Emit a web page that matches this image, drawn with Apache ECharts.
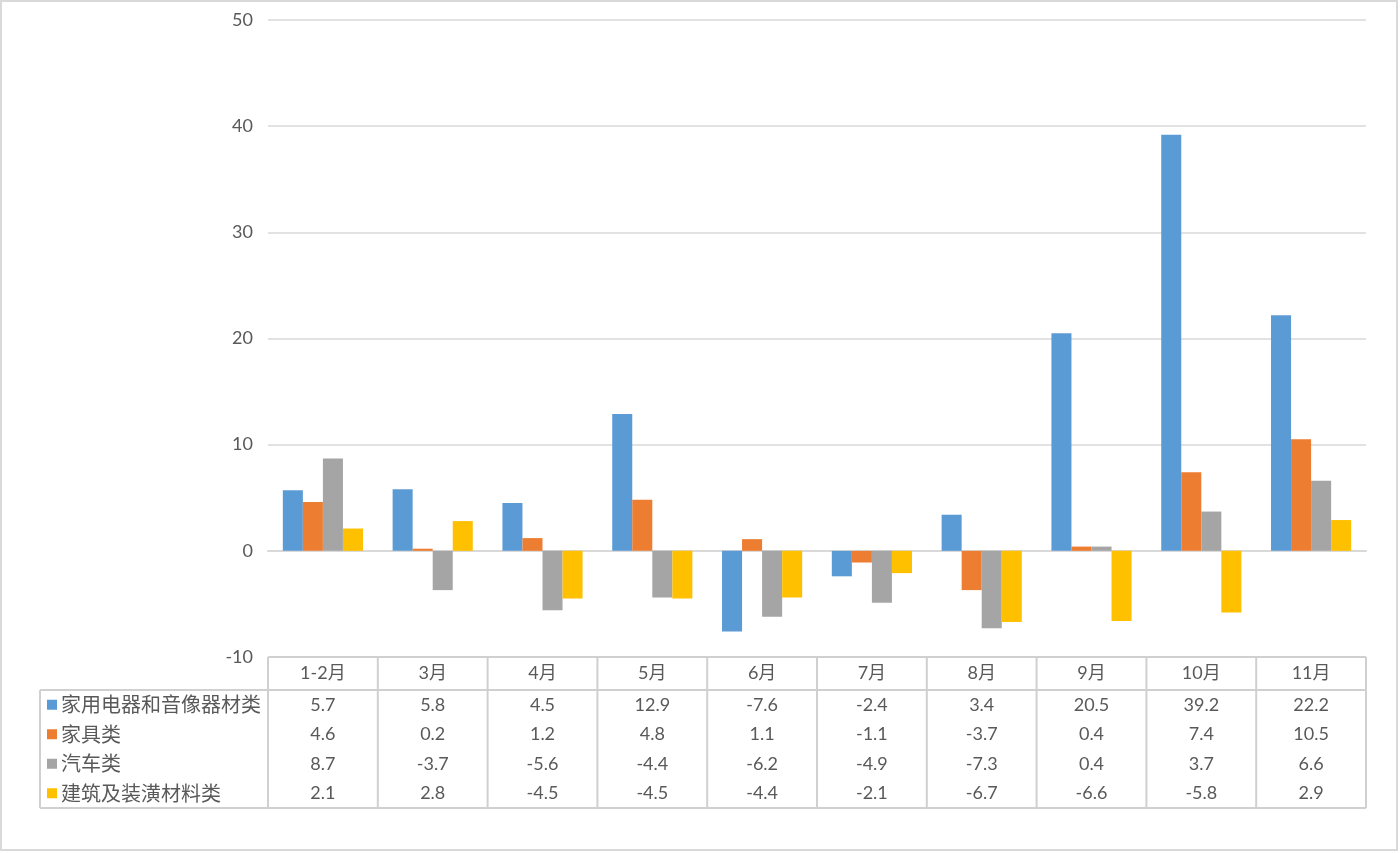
<!DOCTYPE html>
<html>
<head>
<meta charset="utf-8">
<script src="https://cdn.jsdelivr.net/npm/echarts@6/dist/echarts.min.js"></script>
<style>
  html, body { margin: 0; padding: 0; background: #fff; }
  #chart { width: 1400px; height: 853px; }
</style>
</head>
<body>
<div id="chart"></div>
<script>
var months = ['1-2月', '3月', '4月', '5月', '6月', '7月', '8月', '9月', '10月', '11月'];
var seriesNames = ['家用电器和音像器材类', '家具类', '汽车类', '建筑及装潢材料类'];
var appliances = [5.7, 5.8, 4.5, 12.9, -7.6, -2.4, 3.4, 20.5, 39.2, 22.2];
var furniture = [4.6, 0.2, 1.2, 4.8, 1.1, -1.1, -3.7, 0.4, 7.4, 10.5];
var cars = [8.7, -3.7, -5.6, -4.4, -6.2, -4.9, -7.3, 0.4, 3.7, 6.6];
var building = [2.1, 2.8, -4.5, -4.5, -4.4, -2.1, -6.7, -6.6, -5.8, 2.9];
var colors = ['#5b9bd5', '#ed7d31', '#a5a5a5', '#ffc000'];

var allSeries = [appliances, furniture, cars, building];
var numFont = 'Lato, "Noto Sans CJK SC", sans-serif';
var cjkFont = '"Noto Sans CJK SC", sans-serif';
var textColor = '#595959';
var tableLine = '#d0d0d0';

var chartDom = document.getElementById('chart');
var myChart = echarts.init(chartDom);

var option = {
    animation: false,
    grid: { left: 268, right: 34, top: 20, bottom: 196 },
    xAxis: {
        type: 'category',
        data: months,
        axisLine: { onZero: true, lineStyle: { color: '#d9d9d9', width: 2 } },
        axisTick: { show: false },
        axisLabel: { show: false }
    },
    yAxis: {
        type: 'value',
        min: -10,
        max: 50,
        interval: 10,
        axisLine: { show: false },
        axisTick: { show: false },
        axisLabel: { color: textColor, fontSize: 18, fontFamily: numFont, margin: 15 },
        splitLine: { lineStyle: { color: '#d9d9d9', width: 1.5 } }
    },
    series: allSeries.map(function (vals, i) {
        return {
            name: seriesNames[i],
            type: 'bar',
            data: vals,
            barGap: '0%',
            barCategoryGap: '27%',
            itemStyle: { color: colors[i] }
        };
    })
};
myChart.setOption(option);

// data table under the plot, placed from the category axis
var headTop = 657, headBottom = 690, tableBottom = 808, labelLeft = 40;
var rowH = (tableBottom - headBottom) / 4;
var step = myChart.convertToPixel({ xAxisIndex: 0 }, 1) - myChart.convertToPixel({ xAxisIndex: 0 }, 0);
var firstX = myChart.convertToPixel({ xAxisIndex: 0 }, 0) - step / 2;
var lastX = firstX + step * months.length;
var els = [];

function line(x1, y1, x2, y2) {
    els.push({ type: 'line', shape: { x1: x1, y1: y1, x2: x2, y2: y2 }, style: { stroke: tableLine, lineWidth: 2 }, z: 10 });
}

// horizontal borders
line(firstX, headTop, lastX, headTop);
line(labelLeft, headBottom, lastX, headBottom);
line(labelLeft, tableBottom, lastX, tableBottom);
line(labelLeft, headBottom, labelLeft, tableBottom);
for (var c = 0; c <= months.length; c++) {
    var bx = firstX + step * c;
    line(bx, headTop, bx, tableBottom);
}

months.forEach(function (m, i) {
    var cx = myChart.convertToPixel({ xAxisIndex: 0 }, i);
    els.push({
        type: 'text', x: cx, y: (headTop + headBottom) / 2,
        style: { text: m, fill: textColor, font: '18px ' + numFont, align: 'center', verticalAlign: 'middle' }, z: 11
    });
    allSeries.forEach(function (vals, r) {
        els.push({
            type: 'text', x: cx, y: headBottom + rowH * (r + 0.5),
            style: { text: String(vals[i]), fill: textColor, font: '18px ' + numFont, align: 'center', verticalAlign: 'middle' }, z: 11
        });
    });
});

seriesNames.forEach(function (name, r) {
    var cy = headBottom + rowH * (r + 0.5);
    els.push({ type: 'rect', shape: { x: 47, y: cy - 5, width: 10, height: 10 }, style: { fill: colors[r] }, z: 11 });
    els.push({
        type: 'text', x: 61, y: cy,
        style: { text: name, fill: textColor, font: '20px ' + cjkFont, align: 'left', verticalAlign: 'middle' }, z: 11
    });
});

// outer frame
els.push({ type: 'rect', shape: { x: 1, y: 1, width: 1396, height: 849 }, style: { fill: 'none', stroke: '#d9d9d9', lineWidth: 2 }, z: 12 });

myChart.setOption({ graphic: { elements: els } });
</script>
</body>
</html>
